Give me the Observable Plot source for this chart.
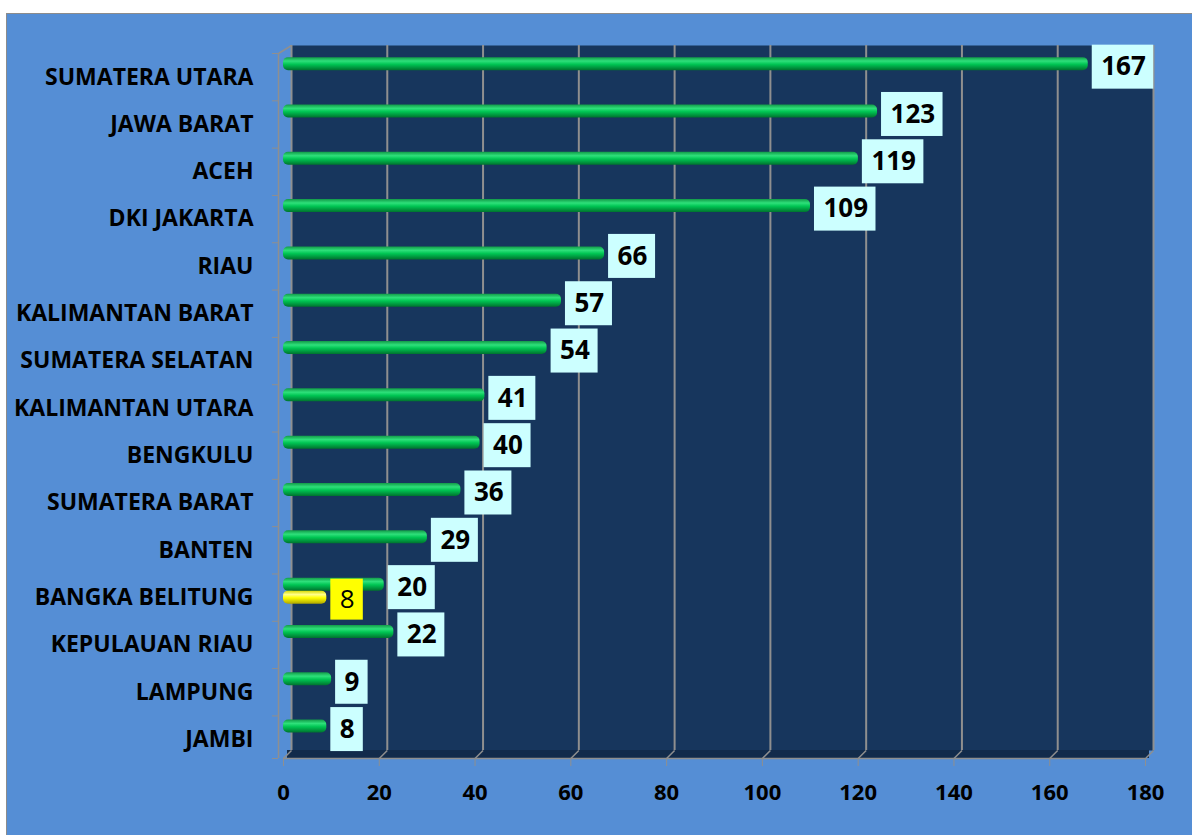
<!DOCTYPE html>
<html><head><meta charset="utf-8">
<script src="https://cdn.jsdelivr.net/npm/d3@7"></script>
<script src="https://cdn.jsdelivr.net/npm/@observablehq/plot@0.6"></script>
<style>
html,body{margin:0;padding:0;background:#fff;}
#wrap{position:absolute;left:6px;top:13px;border-left:1px solid #8c8c8c;border-top:1px solid #8c8c8c;}
#wrap svg{display:block;}
</style></head><body><div id="wrap"></div>
<script>
const categories = ["SUMATERA UTARA","JAWA BARAT","ACEH","DKI JAKARTA","RIAU","KALIMANTAN BARAT","SUMATERA SELATAN","KALIMANTAN UTARA","BENGKULU","SUMATERA BARAT","BANTEN","BANGKA BELITUNG","KEPULAUAN RIAU","LAMPUNG","JAMBI"];
const greenValues = [167,123,119,109,66,57,54,41,40,36,29,20,22,9,8];
const yellowCategories = ["BANGKA BELITUNG"];
const yellowValues = [8];
const xTicks = [0,20,40,60,80,100,120,140,160,180];

const W = 1185, H = 821, mL = 276, mR = 47, mT = 39, mB = 77;
const yTop = -0.5, yBottom = 14.4;
const kx = (W - mL - mR) / 180, ky = (H - mT - mB) / (yBottom - yTop);
const depth = 8;
const gray = "#8f8f8f";

const green = categories.map((c, i) => ({c, i, v: greenValues[i]}));
const yellow = yellowCategories.map((c, k) => ({c, i: categories.indexOf(c), v: yellowValues[k]}));
const boundaries = d3.range(categories.length).map(i => i - 0.5).concat([yBottom]);

function labelMarks(data, {fill, weight, dy, h}) {
  const marks = [];
  for (const n of [1, 2, 3]) {
    const d = data.filter(r => String(r.v).length === n);
    if (!d.length) continue;
    marks.push(Plot.rect(d, {x1: "v", x2: "v", y1: "i", y2: "i", dx: 9,
      insetRight: -(18 + 14.5 * n), insetTop: -h / 2, insetBottom: -h / 2, dy, fill}));
  }
  marks.push(Plot.text(data, {x: "v", y: "i", text: "v", dx: 18, dy, textAnchor: "start",
    fontSize: 26, fontWeight: weight, fill: "#000"}));
  return marks;
}

const chart = Plot.plot({
  width: W, height: H,
  marginLeft: mL, marginRight: mR, marginTop: mT, marginBottom: mB,
  style: {background: "#558ed5", fontFamily: "'Open Sans', sans-serif", color: "#000"},
  x: {domain: [0, 180], axis: null},
  y: {domain: [yBottom, yTop], axis: null},
  marks: [
    Plot.frame({fill: "#17365d", dx: depth, dy: -depth}),
    Plot.rect([0], {x1: 0, x2: 180, y1: yBottom, y2: yBottom, insetTop: -depth, dx: depth / 2, fill: "#122b4b"}),
    Plot.ruleX(xTicks, {x: d => d, y1: yTop, y2: yBottom, dx: depth, dy: -depth, stroke: gray, strokeWidth: 2}),
    Plot.link(xTicks, {x1: d => d, y1: yBottom, x2: d => d + depth / kx, y2: yBottom - depth / ky, stroke: gray, strokeWidth: 1.5}),
    Plot.ruleY([yBottom], {x1: 0, x2: 180, stroke: gray, strokeWidth: 1.5}),
    Plot.ruleX([0], {x: 0, y1: yTop, y2: yBottom, dx: -5, stroke: gray, strokeWidth: 1.5}),
    Plot.link([0], {x1: -5 / kx, y1: yTop, x2: depth / kx, y2: yTop - depth / ky, stroke: gray, strokeWidth: 1.5}),
    Plot.axisY(boundaries, {tickSize: 6, tickFormat: () => "", dx: -5, stroke: gray, label: null}),
    Plot.axisY(d3.range(categories.length), {tickSize: 0, tickPadding: 30, tickFormat: i => categories[i],
      fontSize: 23, fontWeight: "bold", label: null}),
    Plot.axisX(xTicks, {tickSize: 8, tickPadding: 18, fontSize: 22, fontWeight: "bold", stroke: gray, label: null}),
    Plot.rect(green, {x1: 0, x2: "v", y1: "i", y2: "i", insetTop: -6.5, insetBottom: -6.5, insetRight: -5, dy: -13, rx: 5, fill: "url(#gGreen)"}),
    Plot.rect(yellow, {x1: 0, x2: "v", y1: "i", y2: "i", insetTop: -6.5, insetBottom: -6.5, insetRight: -5, dy: 0, rx: 5, fill: "url(#gYellow)"}),
    ...labelMarks(green, {fill: "#ccffff", weight: "bold", dy: -10, h: 44}),
    ...labelMarks(yellow, {fill: "#ffff00", weight: "normal", dy: 2, h: 41})
  ]
});

const defs = d3.select(chart).insert("defs", ":first-child");
function grad(id, stops) {
  const g = defs.append("linearGradient").attr("id", id).attr("x1", 0).attr("y1", 0).attr("x2", 0).attr("y2", 1);
  for (const [o, c] of stops) g.append("stop").attr("offset", o).attr("stop-color", c);
}
grad("gGreen", [[0, "#129a48"], [0.3, "#2ee07a"], [0.55, "#00c553"], [1, "#00722e"]]);
grad("gYellow", [[0, "#d8d800"], [0.3, "#ffff8a"], [0.55, "#ffff00"], [1, "#b0a800"]]);

document.getElementById("wrap").appendChild(chart);
</script></body></html>
